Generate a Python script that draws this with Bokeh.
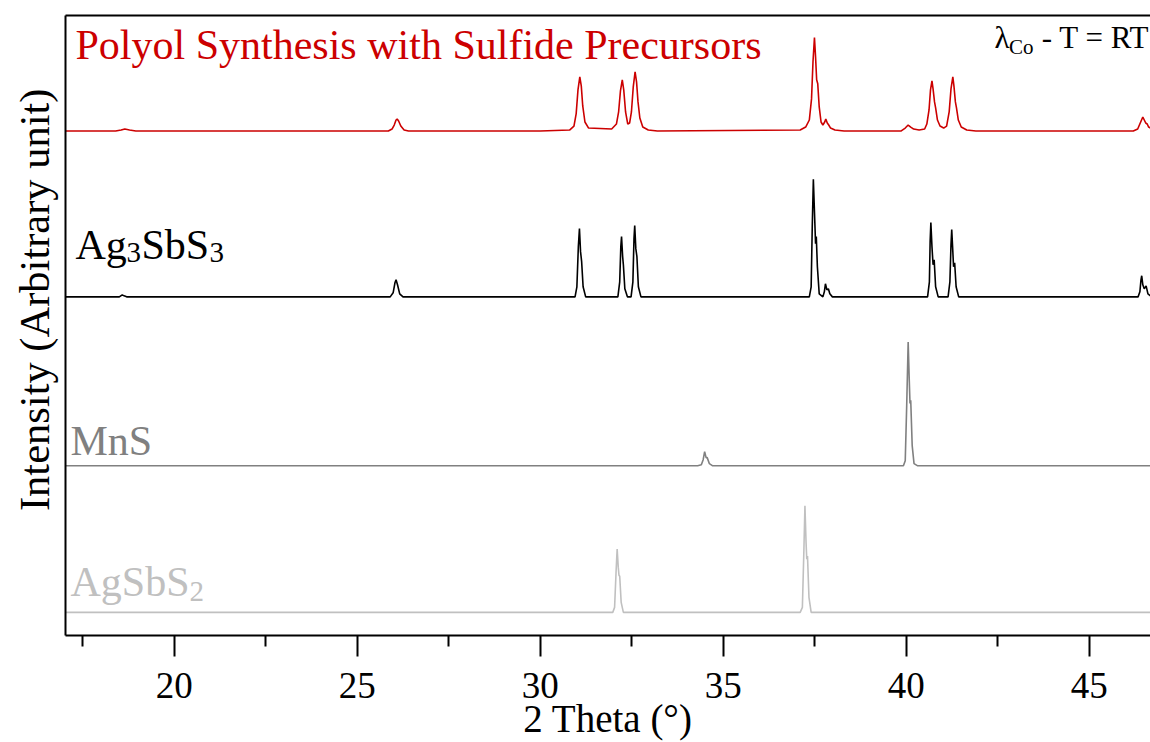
from bokeh.plotting import figure
from bokeh.models import Range1d, LinearAxis, Label, Title, FixedTicker, ColumnDataSource
from bokeh.embed import file_html
from bokeh.resources import INLINE

FONT = "Liberation Serif"

# ---------------- data (2 Theta in degrees, intensity in arbitrary units) ----------------
polyol_tt = [17.03, 18.40, 18.55, 18.65, 18.78, 18.95, 22.00,
             25.85, 25.95, 26.01, 26.06, 26.09, 26.13, 26.19, 26.28, 26.40,
             30.00, 30.80, 30.92, 30.98, 31.03, 31.08, 31.12, 31.16, 31.22, 31.32,
             31.95, 32.08, 32.14, 32.19, 32.24, 32.28, 32.33, 32.39, 32.44, 32.49, 32.54, 32.59,
             32.63, 32.67, 32.72, 32.80, 32.95, 33.20,
             37.10, 37.25, 37.35, 37.41, 37.45, 37.49, 37.52, 37.55, 37.58, 37.62, 37.67, 37.72,
             37.77, 37.80, 37.84, 37.88, 37.93, 38.05, 38.30,
             39.85, 39.97, 40.05, 40.12, 40.20, 40.35, 40.50,
             40.56, 40.62, 40.66, 40.70, 40.73, 40.77, 40.80, 40.85, 40.92, 41.02,
             41.10, 41.17, 41.22, 41.27, 41.30, 41.34, 41.37, 41.42, 41.50, 41.65, 41.90,
             46.20, 46.32, 46.39, 46.46, 46.50, 46.54, 46.58, 46.62, 46.67]
polyol_int = [1, 1, 2, 3, 2, 1, 1,
              1, 3, 7, 12, 13, 11, 6, 2, 1,
              1, 2, 6, 18, 42, 55, 46, 26, 10, 4,
              3, 8, 20, 41, 52, 42, 20, 8, 9, 20, 45, 60,
              50, 30, 14, 5, 2, 1,
              2, 5, 12, 33, 70, 94, 75, 52, 48, 25, 10, 7,
              10, 13, 9, 7, 4, 2, 1,
              1, 4, 7, 5, 3, 2, 3,
              8, 22, 42, 51, 43, 30, 24, 12, 6, 4,
              6, 20, 43, 55, 46, 30, 24, 12, 5, 2, 1,
              1, 3, 9, 15, 12, 9, 8, 5, 4]

ag3sbs3_tt = [17.03, 18.50, 18.58, 18.63, 18.70, 25.90, 25.98, 26.03, 26.06, 26.10, 26.16, 26.25,
              30.95, 31.00, 31.04, 31.07, 31.10, 31.13, 31.17, 31.24,
              32.12, 32.17, 32.20, 32.22, 32.25, 32.27, 32.31, 32.38,
              32.48, 32.53, 32.56, 32.58, 32.61, 32.64, 32.68, 32.75,
              37.35, 37.40, 37.43, 37.46, 37.49, 37.52, 37.54, 37.57, 37.62,
              37.72, 37.76, 37.79, 37.83, 37.87, 37.91, 37.98,
              40.58, 40.63, 40.65, 40.67, 40.70, 40.73, 40.76, 40.80, 40.87,
              41.14, 41.19, 41.22, 41.24, 41.27, 41.29, 41.32, 41.36, 41.43,
              46.33, 46.38, 46.41, 46.43, 46.46, 46.50, 46.55, 46.60, 46.67]
ag3sbs3_int = [0, 0, 2, 1, 0, 0, 4, 14, 17, 12, 3, 0,
               0, 10, 50, 68, 45, 35, 10, 0,
               0, 15, 50, 60, 40, 32, 8, 0,
               0, 15, 58, 71, 48, 40, 10, 0,
               0, 10, 70, 117, 85, 53, 60, 30, 3,
               0, 5, 13, 7, 8, 3, 0,
               0, 15, 55, 74, 50, 32, 37, 10, 0,
               0, 15, 52, 67, 45, 30, 34, 10, 0,
               0, 5, 17, 21, 12, 8, 11, 3, 1]

mns_tt = [17.03, 34.30, 34.40, 34.45, 34.49, 34.53, 34.56, 34.62, 34.70,
          39.92, 39.97, 40.01, 40.05, 40.08, 40.10, 40.12, 40.16, 40.21, 40.30, 46.67]
mns_int = [0, 0, 1, 6, 14, 8, 8, 2, 0,
           0, 5, 60, 123, 85, 62, 65, 20, 2, 0, 0]

agsbs2_tt = [17.03, 31.98, 32.03, 32.07, 32.10, 32.13, 32.15, 32.17, 32.21, 32.27,
             37.10, 37.16, 37.20, 37.23, 37.26, 37.28, 37.30, 37.34, 37.40, 46.67]
agsbs2_int = [0, 0, 5, 40, 63, 45, 37, 36, 10, 0,
              0, 5, 60, 106, 70, 53, 56, 15, 0, 0]

# vertical stacking offsets of the patterns
offset_polyol = 501
offset_ag3sbs3 = 337
offset_mns = 169
offset_agsbs2 = 23

major_ticks = [20, 25, 30, 35, 40, 45]
minor_ticks = [17.5, 22.5, 27.5, 32.5, 37.5, 42.5]

RED = "#CC0000"
GRAY = "#808080"
LIGHT = "#C0C0C0"

# ---------------- figure ----------------
p = figure(width=1150, height=742,
           x_range=Range1d(17.03, 46.67), y_range=Range1d(0, 617),
           output_backend="svg", toolbar_location=None,
           min_border_top=15, min_border_left=65, min_border_right=0, min_border_bottom=0)
p.background_fill_color = "white"
p.border_fill_color = "white"
p.outline_line_color = None
p.xgrid.visible = False
p.ygrid.visible = False


def add_series(tt, inten, off, color):
    src = ColumnDataSource(dict(x=tt, y=[v + off for v in inten]))
    p.line("x", "y", source=src, line_color=color, line_width=1.6)


add_series(agsbs2_tt, agsbs2_int, offset_agsbs2, LIGHT)
add_series(mns_tt, mns_int, offset_mns, GRAY)
add_series(ag3sbs3_tt, ag3sbs3_int, offset_ag3sbs3, "black")
add_series(polyol_tt, polyol_int, offset_polyol, RED)

# x axis
xa = p.xaxis[0]
xa.ticker = FixedTicker(ticks=major_ticks, minor_ticks=minor_ticks)
xa.major_tick_in = 0
xa.major_tick_out = 21
xa.minor_tick_in = 0
xa.minor_tick_out = 11
xa.major_tick_line_width = 2
xa.minor_tick_line_width = 2
xa.axis_line_width = 2
xa.axis_line_color = "black"
xa.major_tick_line_color = "black"
xa.minor_tick_line_color = "black"
xa.major_label_text_font = FONT
xa.major_label_text_font_size = "37px"
xa.major_label_text_color = "black"
xa.major_label_standoff = 16
xa.axis_label = "2 Theta (°)"
xa.axis_label_text_font = FONT
xa.axis_label_text_font_size = "39px"
xa.axis_label_text_font_style = "normal"
xa.axis_label_text_color = "black"
xa.axis_label_standoff = -4

# left axis: line only
ya = p.yaxis[0]
ya.ticker = FixedTicker(ticks=[])
ya.major_tick_out = 0
ya.major_tick_in = 0
ya.minor_tick_out = 0
ya.minor_tick_in = 0
ya.major_label_text_font_size = "0px"
ya.axis_line_width = 2
ya.axis_line_color = "black"

# top border
top = LinearAxis(ticker=FixedTicker(ticks=[]), major_tick_out=0, major_tick_in=0,
                 minor_tick_out=0, minor_tick_in=0, major_label_text_font_size="0px",
                 axis_line_width=2, axis_line_color="black")
p.add_layout(top, "above")

# y axis label as a side title
p.add_layout(Title(text="Intensity (Arbitrary unit)", align="right", offset=73,
                   text_font=FONT, text_font_size="42.5px", text_font_style="normal",
                   text_color="black", standoff=16), "left")

# in-plot labels
def lab(x, y, text, size, color, x_offset=0, align="left"):
    p.add_layout(Label(x=x, y=y, text=text, text_font=FONT, text_font_size=size,
                       text_color=color, text_baseline="alphabetic", text_align=align,
                       x_offset=x_offset))

lab(17.303, 588, "Polyol Synthesis with Sulfide Precursors", "42px", RED)

lab(46.67, 595, "- T = RT", "31px", "black", x_offset=-1, align="right")
lab(46.67, 586, "Co", "21px", "black", x_offset=-117, align="right")
lab(46.67, 595, "λ", "31px", "black", x_offset=-141, align="right")

lab(17.303, 389, "Ag", "42px", "black")
lab(17.303, 381, "3", "29px", "black", x_offset=51)
lab(17.303, 389, "SbS", "42px", "black", x_offset=66)
lab(17.303, 381, "3", "29px", "black", x_offset=134)

lab(17.167, 194, "MnS", "42px", GRAY)

lab(17.167, 53, "AgSbS", "42px", LIGHT)
lab(17.167, 44, "2", "29px", LIGHT, x_offset=119)

open("out.html", "w").write(file_html(p, INLINE))
